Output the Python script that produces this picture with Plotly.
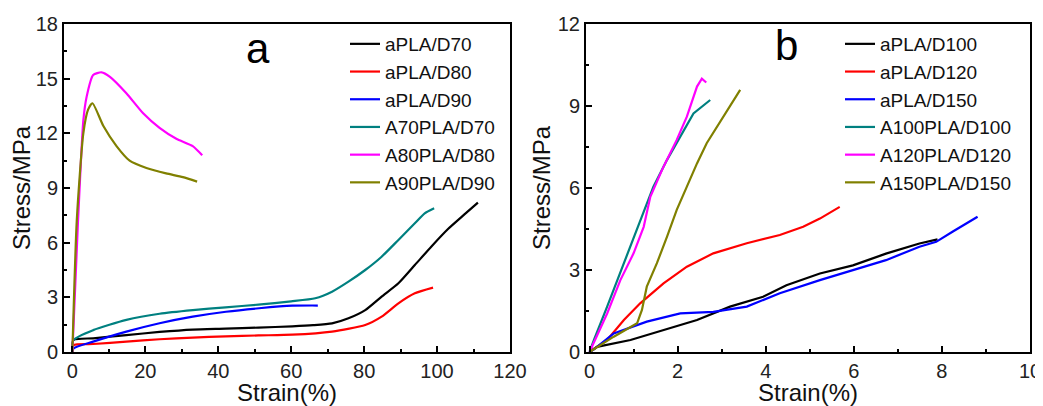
import plotly.graph_objects as go
from plotly.subplots import make_subplots

# panel a
d70_x = [0, 0.3, 5.7, 14.8, 23.9, 33, 42, 51, 60.3, 66, 71.2, 75.7, 80.3, 84.8, 89.4, 93.9, 98.4, 103, 107.5, 111.2]
d70_y = [0, 0.66, 0.75, 0.93, 1.1, 1.23, 1.28, 1.34, 1.41, 1.47, 1.57, 1.85, 2.3, 3.04, 3.77, 4.77, 5.78, 6.75, 7.55, 8.2]
d80_x = [0, 0.3, 5.7, 14.8, 23.9, 33, 42, 51, 60.3, 71.2, 80.3, 84.8, 89.4, 93.9, 98.9]
d80_y = [0, 0.38, 0.44, 0.57, 0.7, 0.79, 0.86, 0.91, 0.95, 1.12, 1.48, 1.94, 2.67, 3.22, 3.53]
d90_x = [0, 0.3, 5.7, 14.8, 23.9, 33, 42.1, 51.2, 60.3, 67.3]
d90_y = [0, 0.2, 0.57, 1.12, 1.58, 1.94, 2.21, 2.4, 2.54, 2.55]
a70_x = [0, 0.3, 5.7, 14.8, 23.9, 33, 42, 51, 60, 66.6, 71.2, 75.7, 80.3, 84.8, 89.4, 93.9, 96.6, 99.2]
a70_y = [0, 0.66, 1.2, 1.76, 2.1, 2.3, 2.45, 2.6, 2.78, 2.95, 3.31, 3.86, 4.5, 5.23, 6.15, 7.06, 7.61, 7.89]
a80_x = [0, 1.5, 3.0, 3.9, 5.7, 8.0, 10.3, 14.8, 19.4, 23.9, 28.5, 33, 35.6]
a80_y = [0, 7.0, 12.7, 14.0, 15.2, 15.35, 15.1, 14.2, 13.1, 12.3, 11.7, 11.3, 10.8]
a90_x = [0, 1.2, 3.0, 4.3, 5.5, 8.5, 12.1, 15.7, 20.3, 25.7, 30.3, 34.2]
a90_y = [0, 7.2, 12.0, 13.3, 13.65, 12.4, 11.3, 10.5, 10.1, 9.8, 9.6, 9.35]

# panel b
d100_x = [0, 0.17, 0.93, 1.68, 2.44, 3.19, 3.94, 4.47, 5.23, 5.98, 6.73, 7.49, 7.9]
d100_y = [0, 0.19, 0.44, 0.8, 1.17, 1.66, 2.02, 2.44, 2.87, 3.17, 3.6, 3.97, 4.12]
d120_x = [0, 0.4, 0.78, 1.15, 1.68, 2.21, 2.81, 3.57, 4.32, 4.85, 5.23, 5.68]
d120_y = [0, 0.44, 1.17, 1.78, 2.51, 3.12, 3.61, 3.98, 4.28, 4.58, 4.88, 5.31]
d150_x = [0, 0.1, 0.55, 1.3, 2.06, 2.81, 3.57, 4.32, 5.23, 5.98, 6.73, 7.49, 7.87, 8.24, 8.81]
d150_y = [0, 0.1, 0.68, 1.11, 1.41, 1.47, 1.66, 2.15, 2.63, 2.99, 3.36, 3.85, 4.03, 4.4, 4.95]
a100_x = [0, 0.1, 0.4, 0.78, 1.15, 1.45, 1.76, 2.06, 2.36, 2.74]
a100_y = [0, 0.44, 1.66, 3.25, 4.83, 6.05, 7.03, 7.88, 8.73, 9.22]
a120_x = [0, 0.4, 0.7, 1.0, 1.23, 1.38, 1.68, 1.98, 2.21, 2.44, 2.55, 2.65]
a120_y = [0, 1.41, 2.63, 3.61, 4.58, 5.68, 6.78, 7.76, 8.61, 9.71, 10.0, 9.86]
a150_x = [0, 0.55, 1.08, 1.19, 1.3, 1.53, 1.76, 1.98, 2.21, 2.44, 2.66, 2.89, 3.12, 3.42]
a150_y = [0, 0.56, 1.05, 1.54, 2.39, 3.25, 4.22, 5.2, 6.05, 6.9, 7.64, 8.24, 8.85, 9.59]

colors = ['#000000', '#ff0000', '#0000ff', '#008080', '#ff00ff', '#808000']
font = 'Arial, Liberation Sans, sans-serif'

panel_a = [('aPLA/D70', d70_x, d70_y), ('aPLA/D80', d80_x, d80_y), ('aPLA/D90', d90_x, d90_y),
           ('A70PLA/D70', a70_x, a70_y), ('A80PLA/D80', a80_x, a80_y), ('A90PLA/D90', a90_x, a90_y)]
panel_b = [('aPLA/D100', d100_x, d100_y), ('aPLA/D120', d120_x, d120_y), ('aPLA/D150', d150_x, d150_y),
           ('A100PLA/D100', a100_x, a100_y), ('A120PLA/D120', a120_x, a120_y), ('A150PLA/D150', a150_x, a150_y)]

# page body has an 8px margin, so the figure starts 8px in
W, H, OFF = 1035, 398, 8


def px(x):
    return (x - OFF) / W


def py(y):
    return 1 - (y - OFF) / H


fig = make_subplots(rows=1, cols=2)

for i, (name, x, y) in enumerate(panel_a):
    fig.add_trace(go.Scatter(x=x, y=y, mode='lines', name=name, legend='legend',
                             line=dict(color=colors[i], width=2.2, shape='spline', smoothing=0.6)),
                  row=1, col=1)
for i, (name, x, y) in enumerate(panel_b):
    fig.add_trace(go.Scatter(x=x, y=y, mode='lines', name=name, legend='legend2',
                             line=dict(color=colors[i], width=2.2)),
                  row=1, col=2)

axis_style = dict(
    showline=True, linewidth=2, linecolor='black', mirror=True,
    showgrid=False, zeroline=False,
    ticks='inside', ticklen=6, tickwidth=2, tickcolor='black',
    tickfont=dict(family=font, size=20, color='#222'),
    title_font=dict(family=font, size=24, color='#111'),
    minor=dict(ticks='inside', ticklen=3, tickwidth=1.5, tickcolor='black'),
)

fig.update_xaxes(**axis_style)
fig.update_yaxes(**axis_style)

fig.update_xaxes(domain=[px(64), px(510)], range=[-2.3, 120], dtick=20, minor_dtick=10,
                 title_text='Strain(%)', title_standoff=8, row=1, col=1)
fig.update_yaxes(domain=[py(352), py(24)], range=[0, 18], dtick=3, minor_dtick=1.5,
                 title_text='Stress/MPa', title_standoff=2, row=1, col=1)
fig.update_xaxes(domain=[px(586), px(1030)], range=[-0.08, 10], dtick=2, minor_dtick=1,
                 title_text='Strain(%)', title_standoff=8, row=1, col=2)
fig.update_yaxes(domain=[py(352), py(24)], range=[0, 12], dtick=3, minor_dtick=1.5,
                 title_text='Stress/MPa', title_standoff=0, row=1, col=2)

legend_style = dict(font=dict(family=font, size=19, color='#111'), bgcolor='rgba(0,0,0,0)',
                    xanchor='left', yanchor='top', tracegroupgap=0, itemwidth=30)

fig.update_layout(
    width=W, height=H,
    margin=dict(l=0, r=0, t=0, b=0, autoexpand=False),
    plot_bgcolor='white', paper_bgcolor='white',
    legend=dict(x=px(345), y=py(25), **legend_style),
    legend2=dict(x=px(840), y=py(25), **legend_style),
    annotations=[
        dict(text='a', x=px(258), y=py(48), xref='paper', yref='paper', showarrow=False,
             xanchor='center', yanchor='middle', font=dict(family=font, size=42, color='black')),
        dict(text='b', x=px(786), y=py(46), xref='paper', yref='paper', showarrow=False,
             xanchor='center', yanchor='middle', font=dict(family=font, size=42, color='black')),
    ],
)

fig.write_html('out.html')
